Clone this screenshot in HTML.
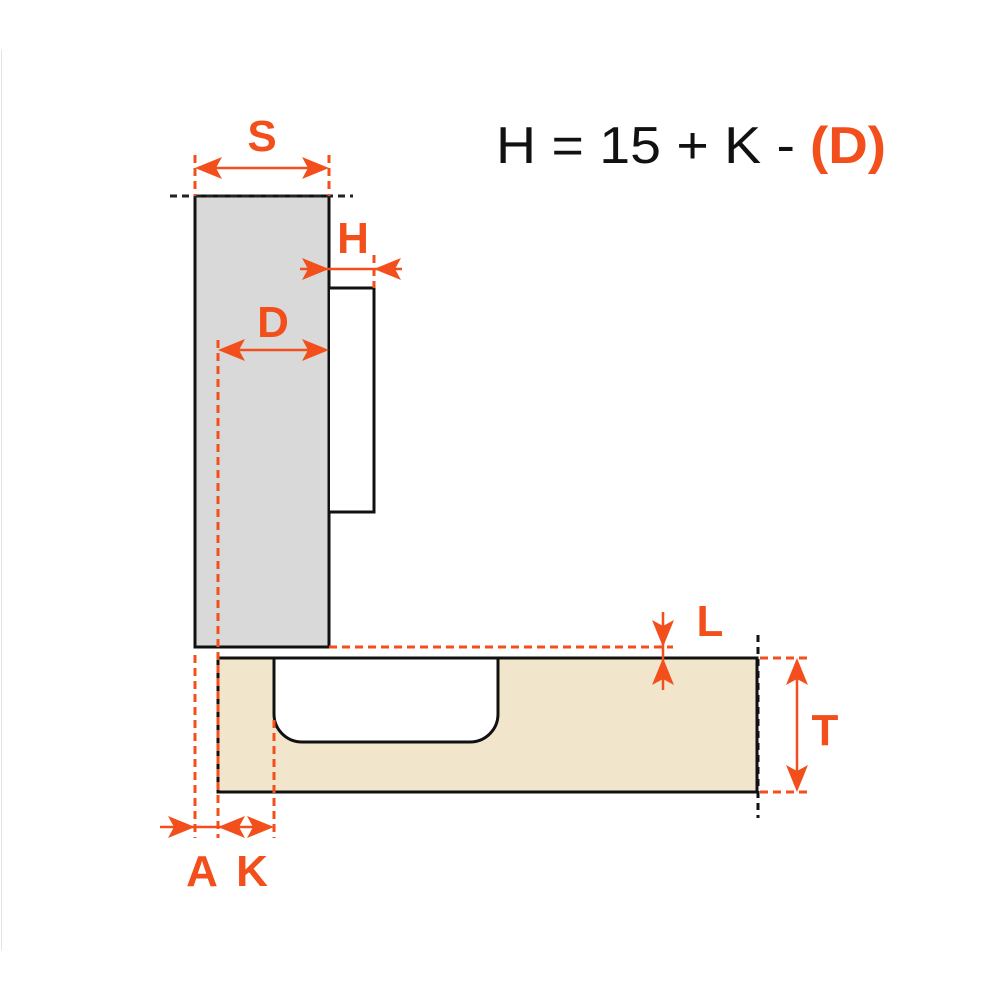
<!DOCTYPE html>
<html><head><meta charset="utf-8"><style>
html,body{margin:0;padding:0;background:#fff;}
svg{display:block;}
</style></head><body>
<svg width="1000" height="1000" viewBox="0 0 1000 1000" xmlns="http://www.w3.org/2000/svg">
<rect width="1000" height="1000" fill="#fff"/>
<line x1="1.5" y1="50" x2="1.5" y2="950" stroke="#e4e4e4" stroke-width="1"/>

<rect x="195" y="196" width="134" height="451" fill="#d9d9d9" stroke="#111" stroke-width="3"/>
<path d="M330 288 H374 V512 H330" fill="#fff" stroke="#111" stroke-width="3"/>
<line x1="170" y1="196" x2="353" y2="196" stroke="#222" stroke-width="3" stroke-dasharray="7,5"/>

<path d="M218 658 H757 V792 H218 Z" fill="#f1e6cc" stroke="#111" stroke-width="3"/>
<path d="M274 658 V714 A28 28 0 0 0 302 742 H470 A28 28 0 0 0 498 714 V658 Z" fill="#fff" stroke="#111" stroke-width="3"/>
<line x1="758" y1="635" x2="758" y2="818" stroke="#111" stroke-width="3" stroke-dasharray="7,5"/>

<g stroke="#f24f1c" stroke-width="3" fill="none" stroke-dasharray="8,5">
<line x1="195" y1="155" x2="195" y2="196"/>
<line x1="329" y1="155" x2="329" y2="196"/>
<line x1="374" y1="255" x2="374" y2="288"/>
<line x1="218" y1="340" x2="218" y2="838"/>
<line x1="329" y1="647" x2="673" y2="647"/>
<line x1="195" y1="655" x2="195" y2="838"/>
<line x1="274" y1="720" x2="274" y2="838"/>
<line x1="760" y1="658" x2="812" y2="658"/>
<line x1="760" y1="792" x2="812" y2="792"/>
</g>

<g stroke="#f24f1c" stroke-width="2.5">
<line x1="200" y1="168" x2="324" y2="168"/>
<line x1="300" y1="269" x2="402" y2="269"/>
<line x1="222" y1="350" x2="325" y2="350"/>
<line x1="663" y1="612" x2="663" y2="690"/>
<line x1="797" y1="662" x2="797" y2="788"/>
<line x1="160" y1="827" x2="270" y2="827"/>
</g>
<g fill="#f24f1c">
<path d="M195 168 L222 157 L216 168 L222 179 Z"/>
<path d="M329 168 L302 157 L308 168 L302 179 Z"/>
<path d="M329 269 L302 258 L308 269 L302 280 Z"/>
<path d="M374 269 L401 258 L395 269 L401 280 Z"/>
<path d="M218 350 L245 339 L239 350 L245 361 Z"/>
<path d="M329 350 L302 339 L308 350 L302 361 Z"/>
<path d="M663 647 L652 620 L663 626 L674 620 Z"/>
<path d="M663 658 L652 685 L663 679 L674 685 Z"/>
<path d="M797 658 L786 685 L797 679 L808 685 Z"/>
<path d="M797 792 L786 765 L797 771 L808 765 Z"/>
<path d="M195 827 L168 816 L174 827 L168 838 Z"/>
<path d="M218 827 L245 816 L239 827 L245 838 Z"/>
<path d="M274 827 L247 816 L253 827 L247 838 Z"/>
</g>

<g font-family="Liberation Sans, sans-serif" font-weight="bold" fill="#f24f1c" font-size="44" text-anchor="middle">
<text x="262" y="151">S</text>
<text x="353" y="253">H</text>
<text x="273" y="337">D</text>
<text x="710" y="636">L</text>
<text x="825" y="745">T</text>
<text x="202" y="886">A</text>
<text x="252" y="886">K</text>
</g>

<text x="496" y="163" font-family="Liberation Sans, sans-serif" font-size="52" fill="#111" textLength="299" lengthAdjust="spacingAndGlyphs">H = 15 + K -</text>
<text x="810" y="163" font-family="Liberation Sans, sans-serif" font-weight="bold" font-size="52" fill="#f24f1c" textLength="76" lengthAdjust="spacingAndGlyphs">(D)</text>
</svg>
</body></html>
